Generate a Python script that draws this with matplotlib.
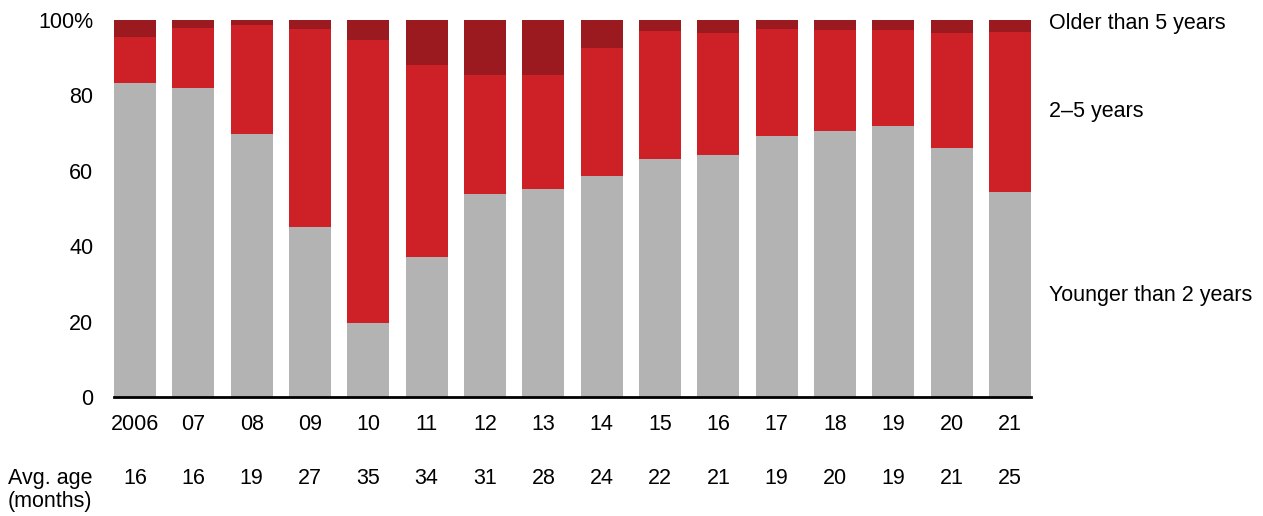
import matplotlib
matplotlib.use("Agg")
import matplotlib.pyplot as plt
import numpy as np
from matplotlib.transforms import blended_transform_factory

plt.rcParams['font.family'] = ['Liberation Sans', 'DejaVu Sans']

years = ["2006", "07", "08", "09", "10", "11", "12", "13", "14", "15",
         "16", "17", "18", "19", "20", "21"]
younger_2 = [83.3, 82.0, 69.8, 45.1, 19.6, 37.1, 53.8, 55.2, 58.6, 63.1,
             64.2, 69.2, 70.6, 71.9, 66.0, 54.4]
two_to_five = [12.2, 15.9, 28.9, 52.5, 75.1, 51.0, 31.6, 30.2, 34.0, 34.0,
               32.4, 28.4, 26.7, 25.4, 30.6, 42.4]
older_5 = [100 - a - b for a, b in zip(younger_2, two_to_five)]
avg_age = [16, 16, 19, 27, 35, 34, 31, 28, 24, 22, 21, 19, 20, 19, 21, 25]
series_labels = ["Younger than 2 years", "2\u20135 years", "Older than 5 years"]

c_gray = "#b3b3b3"
c_red = "#cd2027"
c_dark = "#9a1a1f"
FS = 15.5

W, H = 1263, 516
fig = plt.figure(figsize=(W / 100, H / 100), dpi=100)
ax = fig.add_axes([114 / W, 1 - 397 / H, (1031 - 114) / W, (397 - 20) / H])

x = np.arange(len(years))
bw = 0.72
ax.bar(x, younger_2, bw, color=c_gray, linewidth=0)
ax.bar(x, two_to_five, bw, bottom=younger_2, color=c_red, linewidth=0)
bottom2 = [a + b for a, b in zip(younger_2, two_to_five)]
ax.bar(x, older_5, bw, bottom=bottom2, color=c_dark, linewidth=0)

ax.set_xlim(-bw / 2, len(years) - 1 + bw / 2)
ax.set_ylim(0, 100)
for s in ["top", "right", "left"]:
    ax.spines[s].set_visible(False)
ax.spines["bottom"].set_linewidth(2)
ax.spines["bottom"].set_color("black")

ax.set_yticks([0, 20, 40, 60, 80, 100])
ax.set_yticklabels(["0", "20", "40", "60", "80", "100%"])
ax.tick_params(axis="y", length=0, pad=15, labelsize=FS)
ax.set_xticks(x)
ax.set_xticklabels(years)
ax.tick_params(axis="x", length=0, pad=12, labelsize=FS)

# Avg age row
tr = blended_transform_factory(ax.transData, fig.transFigure)
for xi, v in zip(x, avg_age):
    ax.text(xi, 1 - 478 / H, str(v), transform=tr, ha="center", va="center",
            fontsize=FS)
fig.text(8 / W, 1 - 490 / H, "Avg. age\n(months)", ha="left", va="center",
         fontsize=FS, linespacing=1.15)

# Right-side labels
fig.text(1049 / W, 1 - 23 / H, series_labels[2], ha="left", va="center", fontsize=FS)
fig.text(1049 / W, 1 - 112 / H, series_labels[1], ha="left", va="center", fontsize=FS)
fig.text(1049 / W, 1 - 295 / H, series_labels[0], ha="left", va="center", fontsize=FS)

fig.savefig("out.png", dpi=100)
